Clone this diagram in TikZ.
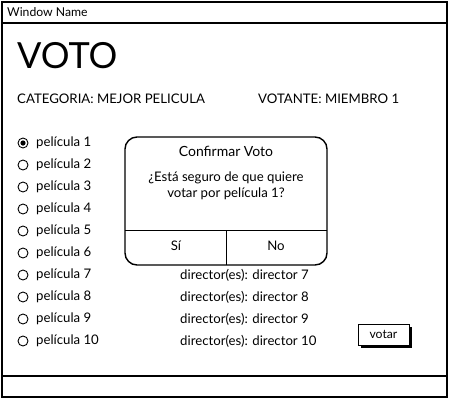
\documentclass[tikz,border=0pt]{standalone}
\usepackage{fontspec}
\setmainfont{Lato}
\begin{document}
\begin{tikzpicture}[x=1pt,y=-1pt,
  txt/.style={anchor=west,inner sep=0pt,font=\fontsize{13.2}{15}\selectfont},
  radio/.style={circle,draw,line width=0.9pt,minimum size=10pt,inner sep=0pt},
  frame/.style={draw,line width=1.6pt}]
\useasboundingbox (0,0) rectangle (450,400);
\fill[white] (0,0) rectangle (450,400);
% window
\draw[frame] (2,2) rectangle (447,397);
\draw[line width=1.6pt] (2,23) -- (447,23);
\draw[line width=1.6pt] (2,376) -- (447,376);
\node[txt,font=\fontsize{12.2}{14}\selectfont] (wn) at (7,12) {Window Name};
\node[txt,font=\fontsize{36}{40}\selectfont] (voto) at (17,56) {VOTO};
\node[txt] (cat) at (17,99) {CATEGORIA: MEJOR PELICULA};
\node[txt] (vot) at (258,99) {VOTANTE: MIEMBRO 1};
% radios
\foreach \i in {1,...,10}{
  \node[radio] (r\i) at (23,{143+22*(\i-1)}) {};
  \node[txt] (p\i) at (36,{143+22*(\i-1)}) {película \i};
}
\fill (r1) circle (2.6pt);
% directors
\foreach \i in {7,...,10}{
  \node[txt] (d\i) at (180,{143+22*(\i-1)}) {director(es): director \i};
}
% dialog
\draw[line width=1.4pt,fill=white,rounded corners=12pt] (125,137) rectangle (327,265);
\node[font=\fontsize{14}{16}\selectfont,inner sep=0pt] (dt) at (226,151) {Confirmar Voto};
\node[font=\fontsize{13.2}{16.5}\selectfont,align=center,inner sep=0pt] (dm) at (226,186) {¿Está seguro de que quiere\\votar por película 1?};
\draw[line width=0.9pt] (125,230) -- (327,230);
\draw[line width=0.9pt] (226,230) -- (226,265);
\node[font=\fontsize{13.2}{15}\selectfont,inner sep=0pt] (si) at (176,246) {Sí};
\node[font=\fontsize{13.2}{15}\selectfont,inner sep=0pt] (no) at (276,246) {No};
% votar button
\fill (361,327) rectangle (412,348);
\draw[line width=1pt,fill=white] (358,324) rectangle (409,345);
\node[font=\fontsize{12.2}{14}\selectfont,inner sep=0pt] (vb) at (383.5,334.5) {votar};
\end{tikzpicture}
\end{document}
